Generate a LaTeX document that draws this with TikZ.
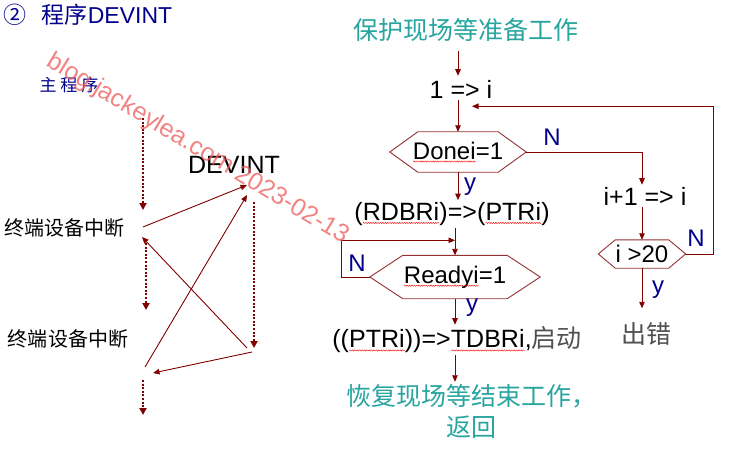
\documentclass[tikz,border=0pt]{standalone}
\usepackage{fontspec}
\setmainfont{Liberation Sans}
\newfontfamily\cjk{Noto Sans CJK SC}
\usetikzlibrary{arrows.meta,decorations.pathmorphing,calc}

\definecolor{arr}{RGB}{128,0,0}
\definecolor{hexc}{RGB}{150,50,50}
\definecolor{tealc}{RGB}{40,165,160}
\definecolor{navyc}{RGB}{0,0,140}
\definecolor{grayc}{RGB}{80,80,80}
\definecolor{wmc}{RGB}{238,90,90}

\newcommand\sq[1]{\tikz[baseline=(w.base)]{\node[inner sep=0pt,outer sep=0pt,minimum width=0pt,minimum height=0pt,draw=none,fill=none,shape=rectangle,anchor=center](w){#1};\draw[red,line width=0.4pt,decorate,decoration={snake,amplitude=0.6pt,segment length=2.4pt}] ([yshift=-2.5pt]w.base west)--([yshift=-2.5pt]w.base east);}}

\newcommand\hexpath[2]{\draw[hexline] ([xshift=#2]#1.north west) -- ([xshift=-#2]#1.north east) -- (#1.east) -- ([xshift=-#2]#1.south east) -- ([xshift=#2]#1.south west) -- (#1.west) -- cycle;}

\tikzset{
  txt/.style={inner sep=2pt, font=\fontsize{25}{30}\selectfont},
  cjktxt/.style={inner sep=2pt, font=\fontsize{25}{31}\selectfont\cjk},
  hexnode/.style={inner sep=0pt, shape=rectangle, font=\fontsize{24}{28}\selectfont},
  hexline/.style={draw=hexc, line width=0.9pt},
  arrowline/.style={draw=arr, line width=0.9pt, -{Triangle[length=6.5pt,width=5.5pt]}},
  dotarrow/.style={draw=arr, line width=2.6pt, dash pattern=on 2pt off 1.6pt, -{Triangle[length=7pt,width=7pt]}},
  solidarrow/.style={draw=arr, line width=0.9pt, -{Triangle[length=6.5pt,width=5.5pt]}},
  lbl/.style={text=navyc, font=\fontsize{24}{28}\selectfont, inner sep=0pt},
  ttl/.style={text=navyc, font=\fontsize{23}{28}\selectfont, inner sep=0pt},
  leftlbl/.style={font=\fontsize{20}{24}\selectfont\cjk, inner sep=0pt},
  wm/.style={rotate=-31, text=wmc, text opacity=0.75, font=\fontsize{25}{30}\selectfont, inner sep=0pt}
}

\begin{document}
\begin{tikzpicture}[x=1pt,y=-1pt]
\useasboundingbox[fill=white] (0,0) rectangle (733,468);

% ---------- title ----------
\node[ttl] (tA) at (15,15) {\cjk ②};
\node[ttl] (tB) at (107,15) {{\cjk 程序}DEVINT};

% ---------- left diagram ----------
\node[text=navyc, font=\fontsize{17}{20}\selectfont\cjk, inner sep=0pt] (main) at (69,85) {主\hspace{4pt}程\hspace{4pt}序};
\node[txt] (dev) at (234,165) {DEVINT};
\node[leftlbl] (L1) at (65,228) {终端设备中断};
\node[leftlbl] (L2) at (68,339) {终端设备中断};

\coordinate (a1) at (143,118); \coordinate (a2) at (143,210);
\coordinate (b1) at (146,243); \coordinate (b2) at (146,310);
\coordinate (c1) at (143,380); \coordinate (c2) at (143,415);
\coordinate (r1) at (254,202); \coordinate (r2) at (254,348);
\draw[dotarrow] (a1) -- (a2);
\draw[dotarrow] (b1) -- (b2);
\draw[dotarrow] (c1) -- (c2);
\draw[dotarrow] (r1) -- (r2);

\coordinate (s1a) at (143,227); \coordinate (s1b) at (247,185);
\coordinate (s2a) at (145,367); \coordinate (s2b) at (247,195);
\coordinate (s3a) at (247,348); \coordinate (s3b) at (142,237);
\coordinate (s4a) at (252,352); \coordinate (s4b) at (153,373);
\draw[solidarrow] (s1a) -- (s1b);
\draw[solidarrow] (s2a) -- (s2b);
\draw[solidarrow] (s3a) -- (s3b);
\draw[solidarrow] (s4a) -- (s4b);

% ---------- flowchart ----------
\node[cjktxt, text=tealc] (t0) at (466,30) {保护现场等准备工作};
\node[txt] (n1) at (461,89) {1 => i};
\node[hexnode, minimum width=136pt, minimum height=40pt] (d1) at (458,152) {\sq{Donei}=1};
\hexpath{d1}{28pt}
\node[txt] (n2) at (452,214) {(\sq{RDBRi})=>(\sq{PTRi})};
\node[hexnode, minimum width=170pt, minimum height=43pt] (d2) at (455,277) {\sq{Readyi}=1};
\hexpath{d2}{33pt}
\node[txt] (n3) at (457,340) {((\sq{PTRi}))=>\sq{TDBRi},{\cjk\color{grayc}启动}};
\node[cjktxt, text=tealc, align=center] (t1) at (471,411) {恢复现场等结束工作，\\返回};

\node[txt] (e1) at (645,196) {i+1 => i};
\node[hexnode, minimum width=87pt, minimum height=28pt] (d3) at (642,254) {i >20};
\hexpath{d3}{17pt}
\node[cjktxt, text=grayc] (t2) at (646,334) {出错};

\node[lbl] (N1) at (552,137) {N};
\node[lbl] (N2) at (696,238) {N};
\node[lbl] (N3) at (357,263) {N};
\node[lbl] (y1) at (470,187) {y};
\node[lbl] (y2) at (472,308) {y};
\node[lbl] (y3) at (658,290) {y};

\draw[arrowline, shorten <=7pt, shorten >=2pt] (t0.south -| d1) -- (n1.north -| d1);
\draw[arrowline] (n1.south -| d1) -- (d1.north);
\draw[arrowline] (d1.south) -- (n2.north -| d1);
\draw[arrowline] (n2.south -| d2) -- (d2.north);
\coordinate (m1) at ($(d2.north)+(0,-15)$);
\draw[arrowline] (d2.west) -- ++(-28,0) |- (m1);
\draw[arrowline] (d2.south) -- (n3.north -| d2);
\draw[arrowline] (n3.south -| d2) -- (t1.north -| d2);

\draw[arrowline] (d1.east) -| (e1.north -| d3);
\draw[arrowline] (e1.south -| d3) -- (d3.north);
\draw[arrowline, shorten >=12pt] (d3.south) -- (t2.north -| d3);
\coordinate (m2) at ($(n1.south -| d1)+(14,6)$);
\draw[arrowline] (d3.east) -- ++(28,0) |- (m2);

% ---------- watermark ----------
\node[wm] (wmk) at (198,149) {blog.jackeylea.com 2023-02-13};
\end{tikzpicture}
\end{document}
